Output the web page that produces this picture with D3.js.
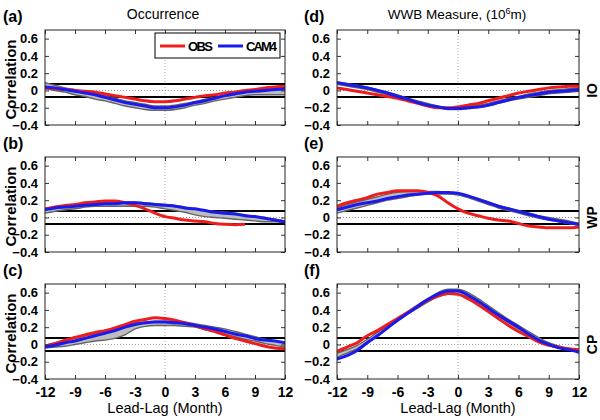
<!DOCTYPE html>
<html><head><meta charset="utf-8">
<script src="https://cdn.jsdelivr.net/npm/d3@7"></script>
<style>body{margin:0;background:#fff}svg{display:block;font-family:"Liberation Sans",Arial,sans-serif}</style>
</head><body><svg id="c" width="600" height="420"></svg>
<script>
const months = [-12,-11,-10,-9,-8,-7,-6,-5,-4,-3,-2,-1,0,1,2,3,4,5,6,7,8,9,10,11,12];
const xTicks = [-12,-9,-6,-3,0,3,6,9,12];
const yTicks = [-0.4,-0.2,0,0.2,0.4,0.6];
const sigLevel = 0.076;
const colTitles = ["Occurrence","WWB Measure, (10"];
const rowNames = ["IO","WP","CP"];
const legendNames = ["OBS","CAM4"];

// (a) IO occurrence
const obsA = [0.03,0.02,0.01,0.0,-0.01,-0.02,-0.04,-0.06,-0.08,-0.10,-0.12,-0.13,-0.13,-0.12,-0.10,-0.08,-0.06,-0.05,-0.03,-0.02,0.0,0.01,0.03,0.04,0.05];
const camA = [0.04,0.03,0.01,-0.01,-0.03,-0.05,-0.08,-0.11,-0.14,-0.16,-0.18,-0.20,-0.20,-0.19,-0.17,-0.14,-0.12,-0.09,-0.06,-0.04,-0.02,-0.01,0.0,0.01,0.02];
const hiA = [0.09,0.06,0.03,0.01,-0.01,-0.04,-0.06,-0.09,-0.12,-0.14,-0.16,-0.18,-0.18,-0.17,-0.15,-0.13,-0.10,-0.08,-0.06,-0.04,-0.02,-0.01,0.01,0.02,0.03];
const loA = [0.02,0.0,-0.02,-0.05,-0.07,-0.10,-0.12,-0.15,-0.18,-0.20,-0.22,-0.23,-0.23,-0.22,-0.20,-0.17,-0.15,-0.12,-0.10,-0.08,-0.06,-0.05,-0.05,-0.05,-0.05];
// (b) WP occurrence (OBS trace not visible after +8)
const obsB = [0.10,0.12,0.14,0.15,0.17,0.18,0.19,0.19,0.17,0.14,0.10,0.05,0.01,-0.01,-0.03,-0.04,-0.05,-0.07,-0.08,-0.085,-0.08,null,null,null,null];
const camB = [0.09,0.11,0.12,0.13,0.14,0.15,0.16,0.16,0.17,0.17,0.16,0.15,0.14,0.13,0.11,0.10,0.08,0.06,0.05,0.04,0.02,0.01,-0.01,-0.03,-0.05];
const hiB = [0.09,0.11,0.13,0.14,0.15,0.16,0.17,0.17,0.18,0.18,0.17,0.16,0.15,0.14,0.12,0.10,0.08,0.07,0.06,0.05,0.03,0.01,0.0,-0.02,-0.04];
const loB = [0.05,0.07,0.09,0.10,0.12,0.13,0.13,0.13,0.13,0.13,0.13,0.12,0.10,0.08,0.06,0.03,0.01,0.0,-0.01,-0.02,-0.03,-0.04,-0.05,-0.05,-0.06];
// (c) CP occurrence
const obsC = [-0.02,0.01,0.05,0.08,0.11,0.14,0.16,0.19,0.23,0.27,0.29,0.31,0.30,0.28,0.25,0.22,0.18,0.15,0.11,0.07,0.04,0.01,-0.02,-0.04,-0.05];
const camC = [-0.03,-0.01,0.02,0.04,0.07,0.10,0.13,0.16,0.20,0.23,0.25,0.26,0.26,0.25,0.24,0.22,0.20,0.18,0.15,0.12,0.10,0.07,0.05,0.04,0.02];
const hiC = [-0.01,0.02,0.04,0.07,0.10,0.12,0.15,0.18,0.22,0.25,0.26,0.27,0.27,0.27,0.26,0.24,0.22,0.20,0.18,0.15,0.12,0.09,0.06,0.04,0.02];
const loC = [-0.04,-0.03,-0.02,0.0,0.02,0.04,0.05,0.07,0.11,0.18,0.21,0.22,0.22,0.22,0.21,0.20,0.17,0.15,0.12,0.09,0.06,0.04,0.01,-0.01,-0.03];
// (d) IO WWB
const obsD = [0.03,0.01,-0.01,-0.03,-0.05,-0.07,-0.09,-0.12,-0.15,-0.18,-0.20,-0.20,-0.19,-0.17,-0.15,-0.12,-0.09,-0.06,-0.03,-0.01,0.01,0.03,0.04,0.05,0.05];
const camD = [0.09,0.07,0.05,0.03,0.0,-0.03,-0.07,-0.10,-0.14,-0.17,-0.19,-0.21,-0.21,-0.20,-0.19,-0.17,-0.14,-0.11,-0.08,-0.06,-0.04,-0.02,-0.01,0.0,0.01];
const hiD = [0.10,0.08,0.06,0.04,0.01,-0.02,-0.05,-0.09,-0.12,-0.15,-0.18,-0.20,-0.20,-0.19,-0.17,-0.15,-0.12,-0.09,-0.07,-0.04,-0.02,0.0,0.01,0.02,0.03];
const loD = [0.07,0.05,0.03,0.01,-0.02,-0.05,-0.08,-0.11,-0.15,-0.18,-0.20,-0.22,-0.22,-0.21,-0.20,-0.18,-0.15,-0.12,-0.10,-0.08,-0.06,-0.04,-0.03,-0.02,-0.01];
// (e) WP WWB
const obsE = [0.13,0.17,0.20,0.23,0.27,0.29,0.31,0.31,0.31,0.29,0.25,0.17,0.10,0.05,0.02,-0.01,-0.03,-0.04,-0.07,-0.10,-0.11,-0.12,-0.12,-0.12,-0.11];
const camE = [0.09,0.12,0.15,0.17,0.19,0.22,0.24,0.26,0.27,0.28,0.29,0.29,0.28,0.25,0.21,0.17,0.13,0.10,0.07,0.04,0.01,-0.02,-0.04,-0.06,-0.08];
const hiE = [0.11,0.15,0.18,0.21,0.24,0.27,0.29,0.30,0.30,0.30,0.30,0.29,0.28,0.25,0.22,0.18,0.14,0.11,0.08,0.05,0.02,0.0,-0.02,-0.04,-0.07];
const loE = [0.05,0.08,0.11,0.14,0.17,0.20,0.22,0.24,0.26,0.27,0.27,0.27,0.26,0.23,0.19,0.15,0.11,0.08,0.05,0.02,-0.01,-0.03,-0.05,-0.07,-0.09];
// (f) CP WWB
const obsF = [-0.08,-0.03,0.02,0.10,0.16,0.23,0.30,0.37,0.44,0.51,0.56,0.59,0.58,0.53,0.46,0.38,0.30,0.22,0.15,0.09,0.03,-0.01,-0.03,-0.05,-0.06];
const camF = [-0.17,-0.13,-0.07,0.02,0.10,0.19,0.28,0.36,0.44,0.52,0.58,0.62,0.62,0.57,0.50,0.42,0.34,0.27,0.20,0.12,0.05,0.0,-0.04,-0.06,-0.09];
const hiF = [-0.10,-0.06,-0.01,0.06,0.14,0.22,0.30,0.38,0.46,0.53,0.60,0.64,0.64,0.60,0.53,0.45,0.37,0.29,0.22,0.15,0.08,0.02,-0.02,-0.05,-0.07];
const loF = [-0.15,-0.10,-0.05,0.03,0.10,0.19,0.27,0.35,0.42,0.49,0.55,0.58,0.58,0.55,0.49,0.41,0.33,0.25,0.18,0.11,0.05,0.0,-0.03,-0.06,-0.09];

const panels = [
  {lab:"(a)", col:0, row:0, obs:obsA, cam:camA, hi:hiA, lo:loA},
  {lab:"(b)", col:0, row:1, obs:obsB, cam:camB, hi:hiB, lo:loB},
  {lab:"(c)", col:0, row:2, obs:obsC, cam:camC, hi:hiC, lo:loC},
  {lab:"(d)", col:1, row:0, obs:obsD, cam:camD, hi:hiD, lo:loD},
  {lab:"(e)", col:1, row:1, obs:obsE, cam:camE, hi:hiE, lo:loE},
  {lab:"(f)", col:1, row:2, obs:obsF, cam:camF, hi:hiF, lo:loF}
];

const colX = [[45,285],[337,579]];
const rowY = [30,157,284];
const ph = 95;
const RED = "#ee1c1c", BLUE = "#1a1aee";
const svg = d3.select("#c");

panels.forEach(p => {
  const [x0,x1] = colX[p.col];
  const y0 = rowY[p.row];
  const x = d3.scaleLinear().domain([-12,12]).range([x0,x1]);
  const y = d3.scaleLinear().domain([-0.4,0.7]).range([y0+ph,y0]);
  const g = svg.append("g");
  const clipId = "clip"+p.lab.replace(/\W/g,"");
  svg.append("clipPath").attr("id",clipId).append("rect").attr("x",x0).attr("y",y0).attr("width",x1-x0).attr("height",ph);
  const pg = g.append("g").attr("clip-path",`url(#${clipId})`);

  pg.append("line").attr("x1",x0).attr("x2",x1).attr("y1",y(0)).attr("y2",y(0))
    .attr("stroke","#999").attr("stroke-width",1).attr("stroke-dasharray","1,2");
  pg.append("line").attr("x1",x(0)).attr("x2",x(0)).attr("y1",y0).attr("y2",y0+ph)
    .attr("stroke","#aaa").attr("stroke-width",1).attr("stroke-dasharray","1,2");

  [sigLevel,-sigLevel].forEach(s => {
    pg.append("line").attr("x1",x0).attr("x2",x1).attr("y1",y(s)).attr("y2",y(s))
      .attr("stroke","#000").attr("stroke-width",2);
  });

  const curve = d3.curveMonotoneX;
  const band = d3.area().x((d,i)=>x(months[i])).y0((d,i)=>y(p.lo[i])).y1((d,i)=>y(p.hi[i])).curve(curve);
  pg.append("path").datum(p.hi).attr("d",band).attr("fill","#bdbdbd");
  const line = d3.line().defined(d=>d!==null).x((d,i)=>x(months[i])).y(d=>y(d)).curve(curve);
  [p.hi,p.lo].forEach(arr => pg.append("path").datum(arr).attr("d",line).attr("fill","none").attr("stroke","#646464").attr("stroke-width",1.4));
  pg.append("path").datum(p.obs).attr("d",line).attr("fill","none").attr("stroke",RED).attr("stroke-width",3);
  pg.append("path").datum(p.cam).attr("d",line).attr("fill","none").attr("stroke",BLUE).attr("stroke-width",3);

  const styleAxis = a => { a.select(".domain").remove(); a.selectAll(".tick line").attr("stroke","#333"); a.selectAll("text").attr("font-size",13).attr("font-weight","bold").attr("fill","#000").attr("font-family","'Liberation Sans',Arial,sans-serif"); };
  g.append("g").attr("transform",`translate(${x0},0)`).call(d3.axisLeft(y).tickValues(yTicks).tickSize(-4).tickPadding(7).tickFormat(d=>d===0?"0":d3.format(".1f")(d))).call(styleAxis);
  g.append("g").attr("transform",`translate(${x1},0)`).call(d3.axisRight(y).tickValues(yTicks).tickSize(-4).tickFormat("")).call(styleAxis);
  g.append("g").attr("transform",`translate(0,${y0})`).call(d3.axisTop(x).tickValues(xTicks).tickSize(-4).tickFormat("")).call(styleAxis);
  const bx = g.append("g").attr("transform",`translate(0,${y0+ph})`).call(d3.axisBottom(x).tickValues(xTicks).tickSize(-4).tickPadding(8).tickFormat(p.row===2?(d=>String(d)):"")).call(styleAxis);
  bx.selectAll("text").attr("font-size",14);

  g.append("rect").attr("x",x0).attr("y",y0).attr("width",x1-x0).attr("height",ph).attr("fill","none").attr("stroke","#222").attr("stroke-width",1);

  svg.append("text").attr("x",p.col===0?3:304).attr("y",y0-8).attr("font-size",16).attr("font-weight","bold").text(p.lab);

  if (p.col===0) {
    svg.append("text").attr("transform",`translate(16,${y0+ph/2+2}) rotate(-90)`).attr("text-anchor","middle")
      .attr("font-size",15).attr("font-weight","bold").text("Correlation");
  } else {
    svg.append("text").attr("transform",`translate(597,${y(0)}) rotate(-90)`).attr("text-anchor","middle")
      .attr("font-size",14).attr("font-weight","bold").text(rowNames[p.row]);
  }
  if (p.row===2) {
    svg.append("text").attr("x",(x0+x1)/2).attr("y",413).attr("text-anchor","middle").attr("font-size",14.5).text("Lead-Lag (Month)");
  }
});

svg.append("text").attr("x",163).attr("y",19).attr("text-anchor","middle").attr("font-size",14).text(colTitles[0]);
const t2 = svg.append("text").attr("x",457).attr("y",19).attr("text-anchor","middle").attr("font-size",13.5);
t2.append("tspan").text(colTitles[1]);
t2.append("tspan").attr("dy",-5).attr("font-size",9).text("6");
t2.append("tspan").attr("dy",5).text("m)");

const lg = svg.append("g");
lg.append("rect").attr("x",155).attr("y",33).attr("width",125).attr("height",25).attr("fill","#fff").attr("stroke","#000").attr("stroke-width",1);
lg.append("line").attr("x1",160).attr("x2",185).attr("y1",46).attr("y2",46).attr("stroke",RED).attr("stroke-width",3);
lg.append("text").attr("x",188).attr("y",51).attr("font-size",13).attr("font-weight","bold").attr("textLength",25).text(legendNames[0]);
lg.append("line").attr("x1",218).attr("x2",243).attr("y1",46).attr("y2",46).attr("stroke",BLUE).attr("stroke-width",3);
lg.append("text").attr("x",246).attr("y",51).attr("font-size",13).attr("font-weight","bold").attr("textLength",31).text(legendNames[1]);
</script></body></html>
